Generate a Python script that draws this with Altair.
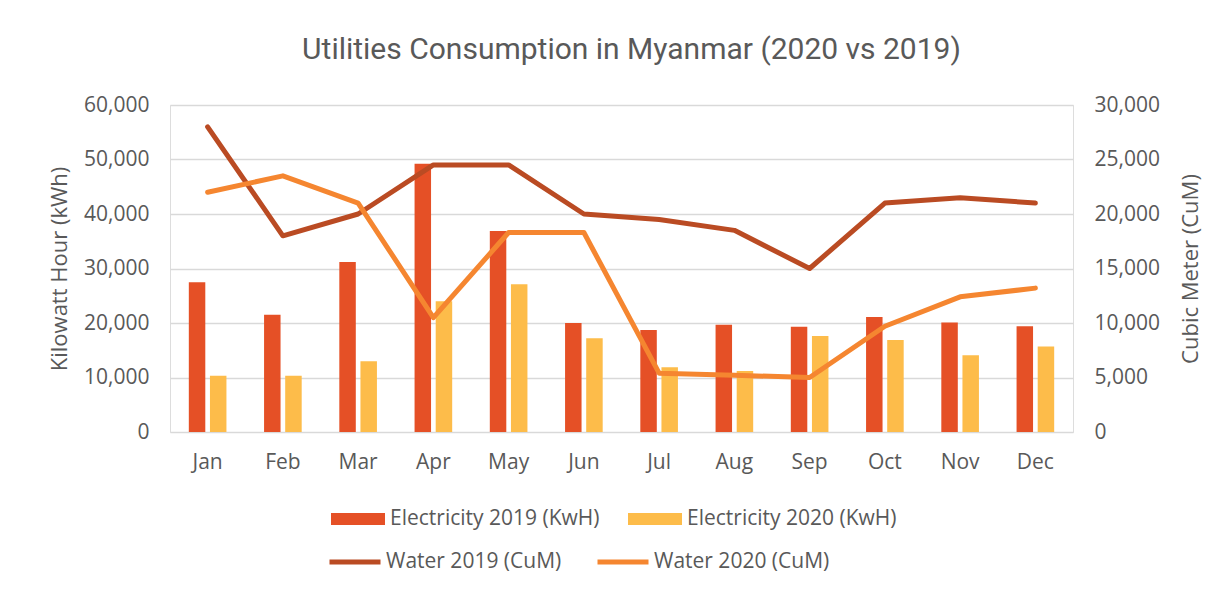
import altair as alt
import pandas as pd

months = ["Jan", "Feb", "Mar", "Apr", "May", "Jun", "Jul", "Aug", "Sep", "Oct", "Nov", "Dec"]
elec_2019 = [27500, 21500, 31200, 49200, 36900, 20000, 18700, 19700, 19300, 21100, 20100, 19400]
elec_2020 = [10300, 10300, 13000, 24000, 27100, 17200, 11900, 11200, 17600, 16900, 14100, 15700]
water_2019 = [28000, 18000, 20000, 24500, 24500, 20000, 19500, 18500, 15000, 21000, 21500, 21000]
water_2020 = [22000, 23500, 21000, 10500, 18300, 18300, 5400, 5200, 5000, 9700, 12400, 13200]

bar_series = ["Electricity 2019 (KwH)", "Electricity 2020 (KwH)"]
line_series = ["Water 2019 (CuM)", "Water 2020 (CuM)"]

bar_df = pd.DataFrame(
    [{"month": m, "series": bar_series[0], "value": v} for m, v in zip(months, elec_2019)]
    + [{"month": m, "series": bar_series[1], "value": v} for m, v in zip(months, elec_2020)]
)
line_df = pd.DataFrame(
    [{"month": m, "series": line_series[0], "value": v} for m, v in zip(months, water_2019)]
    + [{"month": m, "series": line_series[1], "value": v} for m, v in zip(months, water_2020)]
)

GRAY = "#595959"
FONT = "Open Sans"

x_enc = alt.X(
    "month:N",
    sort=months,
    title=None,
    scale=alt.Scale(paddingInner=0.5, paddingOuter=0.25),
    axis=alt.Axis(labelAngle=0, ticks=False, domain=False, labelPadding=19,
                  labelFontSize=21, labelColor=GRAY, labelFont=FONT, grid=False),
)

bars = alt.Chart(bar_df).mark_bar().encode(
    x=x_enc,
    xOffset=alt.XOffset("series:N", sort=bar_series, scale=alt.Scale(paddingInner=0.22)),
    y=alt.Y(
        "value:Q",
        title="Kilowatt Hour (kWh)",
        scale=alt.Scale(domain=[0, 60000], nice=False),
        axis=alt.Axis(values=[0, 10000, 20000, 30000, 40000, 50000, 60000], format=",.0f",
                      ticks=False, domain=False, labelPadding=21, grid=True,
                      gridColor="#D9D9D9", gridWidth=1.5,
                      labelFontSize=21, labelColor=GRAY, labelFont=FONT,
                      titleFontSize=22, titleColor=GRAY, titleFont=FONT,
                      titleFontWeight="normal", titlePadding=12),
    ),
    fill=alt.Fill(
        "series:N",
        sort=bar_series,
        scale=alt.Scale(domain=bar_series, range=["#E55026", "#FDBC4A"]),
        legend=alt.Legend(
            title=None, orient="none", legendX=161, legendY=387, direction="horizontal",
            columns=2, columnPadding=28, labelOffset=5, labelLimit=400,
            symbolType="M-1,-0.22H1V0.22H-1Z", symbolSize=2916, symbolStrokeWidth=0,
            labelFontSize=21, labelColor=GRAY, labelFont=FONT, padding=0,
        ),
    ),
)

lines = alt.Chart(line_df).mark_line(strokeWidth=5, strokeCap="round", strokeJoin="round").encode(
    x=alt.X("month:N", sort=months),
    y=alt.Y(
        "value:Q",
        title="Cubic Meter (CuM)",
        scale=alt.Scale(domain=[0, 30000], nice=False),
        axis=alt.Axis(orient="right", values=[0, 5000, 10000, 15000, 20000, 25000, 30000], format=",.0f",
                      ticks=False, domain=False, labelPadding=21, grid=False,
                      labelFontSize=21, labelColor=GRAY, labelFont=FONT,
                      titleFontSize=22, titleColor=GRAY, titleFont=FONT,
                      titleFontWeight="normal", titlePadding=21, titleAngle=-90,
                      titleBaseline="top"),
    ),
    stroke=alt.Stroke(
        "series:N",
        sort=line_series,
        scale=alt.Scale(domain=line_series, range=["#BA4B23", "#F58630"]),
        legend=alt.Legend(
            title=None, orient="none", legendX=157, legendY=429, direction="horizontal",
            columns=2, columnPadding=25, labelOffset=3, labelLimit=400,
            symbolType="stroke", symbolSize=2601, symbolStrokeWidth=5,
            labelFontSize=21, labelColor=GRAY, labelFont=FONT, padding=0,
        ),
    ),
)

chart = (
    alt.layer(bars, lines)
    .resolve_scale(y="independent", fill="independent", stroke="independent")
    .properties(
        width=903,
        height=327,
        autosize=alt.AutoSizeParams(type="none"),
        padding={"left": 162, "top": 97, "right": 142, "bottom": 150},
        title=alt.TitleParams(
            "Utilities Consumption in Myanmar (2020 vs 2019)",
            font="Roboto", fontSize=30, fontWeight="normal", color=GRAY,
            anchor="middle", offset=29, dx=10,
        ),
    )
    .configure_view(stroke=None)
    .configure(background="white")
)

chart.save("out.html", embed_options={"renderer": "svg", "actions": False})
